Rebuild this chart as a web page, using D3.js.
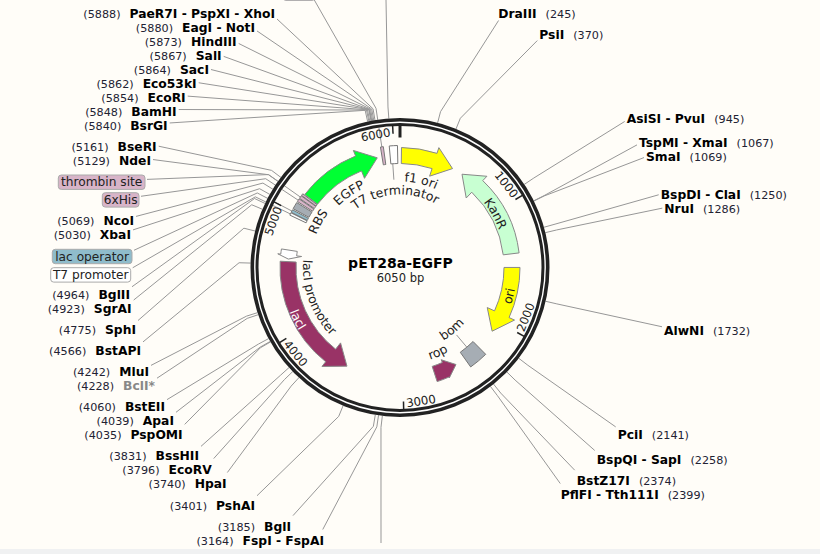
<!DOCTYPE html>
<html>
<head>
<meta charset="utf-8">
<script src="https://cdnjs.cloudflare.com/ajax/libs/d3/7.8.5/d3.min.js"></script>
<style>
  html, body { margin: 0; padding: 0; background: #f0f1f2; overflow: hidden; }
  svg { display: block; font-family: "DejaVu Sans", sans-serif; }
</style>
</head>
<body>
<svg id="map" width="820" height="554"></svg>
<script>
var plasmidName = "pET28a-EGFP";
var plasmidLength = 6050;
var tickValues = [1000, 2000, 3000, 4000, 5000, 6000];

// restriction sites
var siteNames = ["PaeR7I - PspXI - XhoI", "EagI - NotI", "HindIII", "SalI", "SacI", "Eco53kI", "EcoRI", "BamHI", "BsrGI",
  "BseRI", "NdeI", "NcoI", "XbaI", "BglII", "SgrAI", "SphI", "BstAPI", "MluI", "BclI*", "BstEII", "ApaI", "PspOMI",
  "BssHII", "EcoRV", "HpaI", "PshAI", "BglI", "FspI - FspAI",
  "DraIII", "PsiI", "AsiSI - PvuI", "TspMI - XmaI", "SmaI", "BspDI - ClaI", "NruI", "AlwNI", "PciI", "BspQI - SapI", "BstZ17I", "PflFI - Tth111I"];
var sitePositions = [5888, 5880, 5873, 5867, 5864, 5862, 5854, 5848, 5840,
  5161, 5129, 5069, 5030, 4964, 4923, 4775, 4566, 4242, 4228, 4060, 4039, 4035,
  3831, 3796, 3740, 3401, 3185, 3164,
  245, 370, 945, 1067, 1069, 1250, 1286, 1732, 2141, 2258, 2374, 2399];

// arrow features
var arrowNames = ["EGFP", "f1 ori", "KanR", "ori", "rop", "lacI", "lacI promoter"];
var arrowStarts = [5168, 12, 1395, 1512, 2722, 4588, 4687];
var arrowEnds = [5853, 470, 565, 2095, 2521, 3500, 4610];

// plain block features
var blockNames = ["T7 promoter", "lac operator", "RBS", "6xHis", "thrombin site", "T7 tag", "T7 tag 2", "T7 terminator", "bom"];
var blockStarts = [4965, 4990, 5022, 5088, 5118, 5146, 5895, 5965, 2275];
var blockEnds = [4985, 5012, 5078, 5112, 5142, 5162, 5918, 6030, 2430];

// callouts of features with boxed labels
var boxNames = ["thrombin site", "6xHis", "lac operator", "T7 promoter", "T7 tag"];
var boxPositions = [5130, 5100, 5001, 4975, 5906];

// names written along the circle
var curvedNames = ["EGFP", "T7 terminator", "f1 ori", "RBS", "KanR", "ori", "bom", "rop", "lacI", "lacI promoter"];
var curvedMids = [5472, 5983, 229, 5030, 1018, 1758, 2353, 2622, 4084, 4202];

// leaders whose labels fall outside the picture
var cutPositions = [5978, 3139];

// ---- layout
var cx = 400, cy = 267.5;
var shaftIn = 104, shaftOut = 120, tipR = 112;
var arrowHead = [168, 168, 168, 168, 100, 168, 35];
var arrowFlare = [8, 8, 8, 8, 3, 8, 5];
var blockIn = 104, blockOut = 122, elbowR = 161, ringEdge = 149;
var siteLabelX = [275, 255, 236.7, 221.7, 209, 196.7, 185.7, 176.7, 167.7,
  156.7, 151, 134, 131, 130, 131.7, 136, 141, 149, 155, 165, 174, 182.7,
  199, 211.7, 226.7, 255, 291, 324,
  498.3, 539.3, 626.7, 639, 646, 660.7, 664.3, 664, 617.7, 596.7, 576.7, 560.7];
var siteLabelY = [14, 28, 42, 56, 70, 84, 98, 112, 126,
  147, 161, 221, 235, 295, 309, 330, 351, 372, 386, 407, 421, 435,
  456, 470, 484, 506, 527, 541,
  14, 35, 119, 143, 157, 195, 209, 331, 435, 460, 481, 495];
var boxX = [58.3, 102.3, 52.3, 50.7, 283];
var boxW = [86.7, 36.7, 79.7, 80, 32];
var boxY = [175, 192.7, 249.3, 267.7, -14];
var boxH = 14.4;
var cutEndX = [386, 381], cutEndY = [0, 543];
var curvedR = [87, 73, 86, 90, 106, 117, 85, 97, 119, 97];
var curvedInward = [false, false, false, false, false, true, true, true, true, true];
var curvedColor = { lacI: "#fff" };

var fills = {
  "EGFP": "#00ff33", "f1 ori": "#ffff00", "KanR": "#c8ffd2", "ori": "#ffff00", "rop": "#993366", "lacI": "#993366",
  "lacI promoter": "#fff", "T7 promoter": "#fff", "lac operator": "#8fbccb", "RBS": "#a6adb4", "6xHis": "#d8b4c8",
  "thrombin site": "#d8b4c8", "T7 tag": "#d8b4c8", "T7 tag 2": "#d8b4c8", "T7 terminator": "#fff", "bom": "#a6adb4"
};

var svg = d3.select("#map");
svg.append("rect").attr("width", 820).attr("height", 549).attr("fill", "#fffdf8");

var angle = d3.scaleLinear().domain([0, plasmidLength]).range([0, 2 * Math.PI]);
function pt(bp, r) {
  return [cx + r * Math.sin(angle(bp)), cy - r * Math.cos(angle(bp))];
}
function arcTo(p, r, from, to) {
  p.arc(cx, cy, r, angle(from) - Math.PI / 2, angle(to) - Math.PI / 2, to < from);
}
function sectorPath(from, to, r0, r1) {
  var p = d3.path();
  p.moveTo.apply(p, pt(from, r1));
  arcTo(p, r1, from, to);
  p.lineTo.apply(p, pt(to, r0));
  arcTo(p, r0, to, from);
  p.closePath();
  return p.toString();
}
function arrowPath(from, to, head, flare) {
  var dir = to > from ? 1 : -1;
  var neck = to - dir * head;
  var p = d3.path();
  p.moveTo.apply(p, pt(from, shaftOut));
  arcTo(p, shaftOut, from, neck);
  p.lineTo.apply(p, pt(neck, shaftOut + flare - 2));
  p.lineTo.apply(p, pt(to, tipR));
  p.lineTo.apply(p, pt(neck, shaftIn - flare));
  p.lineTo.apply(p, pt(neck, shaftIn));
  arcTo(p, shaftIn, neck, from);
  p.closePath();
  return p.toString();
}

// leader: from the label edge to the elbow, then radially to the target
function leaderPoints(edge, y, side, bp, innerR) {
  var elbow = pt(bp, elbowR);
  var ax = edge - side * 6, ay = y - 2.5;
  var dx = elbow[0] - ax, dy = elbow[1] - ay;
  var tx = 8 / Math.abs(dx || 1);
  var ty = 9 / Math.abs(dy || 1);
  var t = Math.min(tx, ty);
  return [[ax + dx * t, ay + dy * t], elbow, pt(bp, innerR)];
}
var leaderLine = d3.line();
var leaders = svg.append("g").attr("fill", "none").attr("stroke", "#979797").attr("stroke-width", 1);

// labels on the left half are written right-aligned, on the right half left-aligned
var sites = siteNames.map(function(name, i) {
  return { name: name, pos: sitePositions[i], x: siteLabelX[i], y: siteLabelY[i], side: sitePositions[i] < 3000 ? -1 : 1 };
});

leaders.selectAll("path.site").data(sites).enter().append("path").attr("class", "site")
  .attr("d", function(d) { return leaderLine(leaderPoints(d.x, d.y, d.side, d.pos, ringEdge - 1)); });

var boxes = boxNames.map(function(name, i) {
  return { name: name, pos: boxPositions[i], x: boxX[i], y: boxY[i], w: boxW[i] };
});
leaders.selectAll("path.box").data(boxes).enter().append("path").attr("class", "box")
  .attr("d", function(d) { return leaderLine(leaderPoints(d.x + d.w, d.y + boxH / 2, 1, d.pos, blockOut)); });

leaders.selectAll("path.cut").data(cutPositions).enter().append("path").attr("class", "cut")
  .attr("d", function(d, i) { return leaderLine([[cutEndX[i], cutEndY[i]], pt(d, elbowR), pt(d, ringEdge - 1)]); });

// short connectors to the labels of two blocks
leaders.append("path").attr("d", leaderLine([pt(5983, 104), pt(5983, 88)]));
leaders.append("path").attr("d", leaderLine([pt(2353, 106), pt(2353, 88)]));

// ring
svg.append("circle").attr("cx", cx).attr("cy", cy).attr("r", 145.5).attr("fill", "none").attr("stroke", "#fff").attr("stroke-width", 8);
svg.append("circle").attr("cx", cx).attr("cy", cy).attr("r", 147.7).attr("fill", "none").attr("stroke", "#222").attr("stroke-width", 3.6);
svg.append("circle").attr("cx", cx).attr("cy", cy).attr("r", 143).attr("fill", "none").attr("stroke", "#222").attr("stroke-width", 3);

// ticks
svg.append("line").attr("x1", pt(0, 130)[0]).attr("y1", pt(0, 130)[1]).attr("x2", pt(0, 142)[0]).attr("y2", pt(0, 142)[1])
  .attr("stroke", "#222").attr("stroke-width", 3);
svg.selectAll("line.tick").data(tickValues).enter().append("line").attr("class", "tick")
  .attr("x1", function(d) { return pt(d, 134)[0]; }).attr("y1", function(d) { return pt(d, 134)[1]; })
  .attr("x2", function(d) { return pt(d, 142)[0]; }).attr("y2", function(d) { return pt(d, 142)[1]; })
  .attr("stroke", "#222").attr("stroke-width", 1.5);
svg.selectAll("text.tickl").data(tickValues).enter().append("text").attr("class", "tickl")
  .attr("transform", function(d) {
    var b = d - 125;
    var deg = angle(b) * 180 / Math.PI;
    var rot = deg > 90 && deg < 270 ? deg - 180 : deg;
    var p = pt(b, 135);
    return "translate(" + p[0] + "," + p[1] + ") rotate(" + rot + ")";
  })
  .attr("text-anchor", "middle").attr("dy", "0.36em").attr("font-size", 11.7).attr("fill", "#222")
  .text(function(d) { return d; });

// features
var blocks = blockNames.map(function(name, i) { return { name: name, from: blockStarts[i], to: blockEnds[i] }; });
svg.selectAll("path.block").data(blocks).enter().append("path").attr("class", "block")
  .attr("d", function(d) { return sectorPath(d.from, d.to, blockIn, blockOut); })
  .attr("fill", function(d) { return fills[d.name]; })
  .attr("stroke", "#777").attr("stroke-width", 1);
var arrows = arrowNames.map(function(name, i) {
  return { name: name, from: arrowStarts[i], to: arrowEnds[i], head: arrowHead[i], flare: arrowFlare[i] };
});
svg.selectAll("path.arrow").data(arrows).enter().append("path").attr("class", "arrow")
  .attr("d", function(d) { return arrowPath(d.from, d.to, d.head, d.flare); })
  .attr("fill", function(d) { return fills[d.name]; })
  .attr("stroke", "#888").attr("stroke-width", 1);

// curved names
var defs = svg.append("defs");
curvedNames.forEach(function(name, i) {
  var r = curvedR[i], mid = curvedMids[i], span = 1100;
  var p = d3.path();
  if (curvedInward[i]) {
    p.moveTo.apply(p, pt(mid + span, r));
    arcTo(p, r, mid + span, mid - span);
  } else {
    p.moveTo.apply(p, pt(mid - span, r));
    arcTo(p, r, mid - span, mid + span);
  }
  defs.append("path").attr("id", "curve" + i).attr("d", p.toString());
  svg.append("text").attr("font-size", 12.5).attr("fill", curvedColor[name] || "#222").attr("text-anchor", "middle")
    .append("textPath").attr("href", "#curve" + i).attr("startOffset", "50%").text(name);
});

// boxed labels
var boxG = svg.selectAll("g.boxl").data(boxes).enter().append("g").attr("class", "boxl");
boxG.append("rect")
  .attr("x", function(d) { return d.x; }).attr("y", function(d) { return d.y; })
  .attr("width", function(d) { return d.w; }).attr("height", boxH).attr("rx", 3)
  .attr("fill", function(d) { return fills[d.name]; }).attr("stroke", "#aaa").attr("stroke-width", 1);
boxG.filter(function(d) { return d.y > 0; }).append("text")
  .attr("x", function(d) { return d.x + d.w / 2; }).attr("y", function(d) { return d.y + boxH / 2; })
  .attr("dy", "0.35em").attr("text-anchor", "middle").attr("font-size", 12.2).attr("fill", "#222")
  .text(function(d) { return d.name; });

// site labels
var siteG = svg.selectAll("g.sitel").data(sites).enter().append("g").attr("class", "sitel");
siteG.append("text").attr("class", "nm")
  .attr("x", function(d) { return d.x; }).attr("y", function(d) { return d.y; }).attr("dy", "0.36em")
  .attr("text-anchor", function(d) { return d.side > 0 ? "end" : "start"; })
  .attr("font-size", 12.3).attr("font-weight", "bold")
  .attr("fill", function(d) { return d.name === "BclI*" ? "#888" : "#000"; })
  .text(function(d) { return d.name; });
siteG.each(function(d) {
  var w = d3.select(this).select("text.nm").node().getComputedTextLength();
  d3.select(this).append("text")
    .attr("x", d.x - d.side * (w + 9)).attr("y", d.y).attr("dy", "0.36em")
    .attr("text-anchor", d.side > 0 ? "end" : "start")
    .attr("font-size", 11.2).attr("fill", "#223")
    .text("(" + d.pos + ")");
});

// centre
svg.append("text").attr("x", cx + 0.5).attr("y", 263).attr("dy", "0.36em").attr("text-anchor", "middle")
  .attr("font-size", 14).attr("font-weight", "bold").attr("fill", "#000").text(plasmidName);
svg.append("text").attr("x", cx + 0.5).attr("y", 278).attr("dy", "0.36em").attr("text-anchor", "middle")
  .attr("font-size", 11.5).attr("fill", "#222").text(plasmidLength + " bp");
</script>
</body>
</html>
